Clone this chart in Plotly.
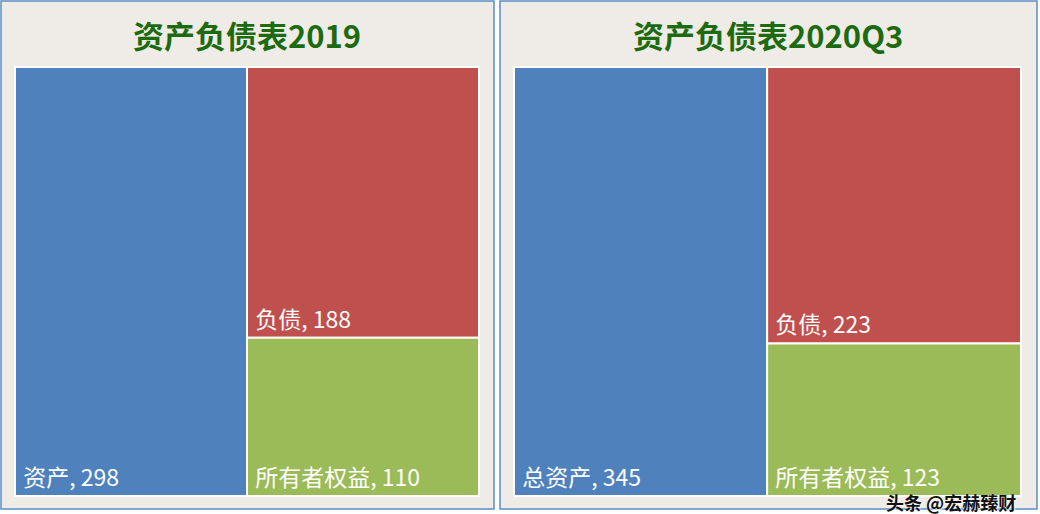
import plotly.graph_objects as go

titles = ["资产负债表2019", "资产负债表2020Q3"]
asset_labels = ["资产", "总资产"]
assets = [298, 345]
liability_label = "负债"
liabilities = [188, 223]
equity_label = "所有者权益"
equity = [110, 123]

W, H = 1040, 514
CJK = "Noto Sans CJK SC, Noto Sans, sans-serif"

# panel pixel boxes (decoration) and treemap domains
panels = [(1, 494, 1, 509), (500, 1037, 1, 509)]
tm_boxes = [(15, 479, 67, 496), (514, 1021, 67, 496)]

NB = "\u00a0"

fig = go.Figure()
for i in range(2):
    x0, x1, y0, y1 = tm_boxes[i]
    ids = ["root", "a", "grp", "l", "e"]
    labels = ["", asset_labels[i], "", liability_label, equity_label]
    parents = ["", "root", "root", "grp", "grp"]
    values = [0, assets[i], 0, liabilities[i], equity[i]]
    texts = ["",
             NB + f"{asset_labels[i]}, {assets[i]}",
             "",
             NB + f"{liability_label}, {liabilities[i]}",
             NB + f"{equity_label}, {equity[i]}"]
    fig.add_trace(go.Treemap(
        ids=ids, labels=labels, parents=parents, values=values,
        branchvalues="remainder", sort=False,
        text=texts, texttemplate="%{text}", textposition="bottom left",
        textfont=dict(family=CJK, size=23, color="white"),
        marker=dict(colors=["white", "#4f81bd", "white", "#c0504d", "#9bbb59"],
                    line=dict(color="white", width=2),
                    pad=dict(t=0, l=0, r=0, b=0)),
        tiling=dict(packing="slice-dice", pad=0),
        pathbar=dict(visible=False),
        hoverinfo="skip",
        domain=dict(x=[x0 / W, x1 / W], y=[1 - y1 / H, 1 - y0 / H]),
    ))

shapes = []
for (x0, x1, y0, y1) in panels:
    shapes.append(dict(type="rect", xref="paper", yref="paper",
                       x0=x0 / W, x1=x1 / W, y0=1 - y1 / H, y1=1 - y0 / H,
                       fillcolor="#efebe7", line=dict(color="#5b8ec4", width=1.5),
                       layer="below"))

annotations = []
for i in range(2):
    x0, x1, _, _ = tm_boxes[i]
    annotations.append(dict(text=f"<b>{titles[i]}</b>", xref="paper", yref="paper",
                            x=(x0 + x1) / 2 / W, y=1 - 35 / H, showarrow=False,
                            xanchor="center", yanchor="middle",
                            font=dict(family=CJK, size=31, color="#1d6b10")))
annotations.append(dict(text="<b>头条 @宏赫臻财</b>", xref="paper", yref="paper",
                        x=1018 / W, y=1 - 502 / H, showarrow=False,
                        xanchor="right", yanchor="middle",
                        font=dict(family=CJK, size=18, color="#111111",
                                  shadow="1px 1px 2px white")))

fig.update_layout(width=W, height=H, margin=dict(l=0, r=0, t=0, b=0),
                  paper_bgcolor="white", shapes=shapes, annotations=annotations,
                  showlegend=False)
fig.write_html("out.html", config={"displayModeBar": False},
               post_script="document.body.style.margin='0';")
